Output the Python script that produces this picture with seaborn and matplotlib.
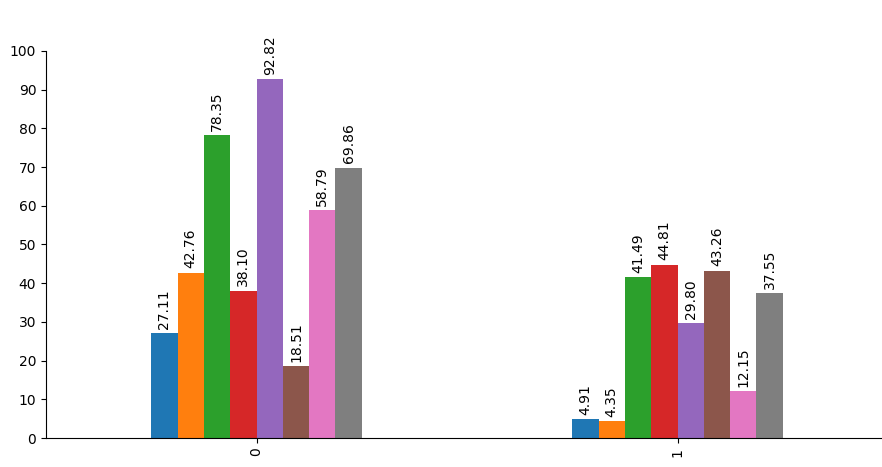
import matplotlib
matplotlib.use("Agg")
import matplotlib.pyplot as plt
import seaborn as sns
import pandas as pd

groups = ["0", "1"]
series = ["A", "B", "C", "D", "E", "F", "G", "H"]
values_g0 = [27.11, 42.76, 78.35, 38.10, 92.82, 18.51, 58.79, 69.86]
values_g1 = [4.91, 4.35, 41.49, 44.81, 29.80, 43.26, 12.15, 37.55]

rows = []
for g, vals in zip(groups, [values_g0, values_g1]):
    for s, v in zip(series, vals):
        rows.append({"group": g, "series": s, "value": v})
df = pd.DataFrame(rows)

sns.set_style("ticks", rc={"text.color": "black", "axes.labelcolor": "black",
                           "xtick.color": "black", "ytick.color": "black",
                           "axes.edgecolor": "black"})
plt.rcParams["font.family"] = ["DejaVu Sans"]
fig = plt.figure(figsize=(8.82, 4.67), dpi=100)
ax = fig.add_axes([46/882, 1-438/467, (888-46)/882, (438-51)/467])
sns.barplot(data=df, x="group", y="value", hue="series", order=groups,
            hue_order=series, palette=sns.color_palette("tab10", 8),
            width=0.5, saturation=1, linewidth=0, ax=ax, legend=False)
for c in ax.containers:
    ax.bar_label(c, fmt="%.2f", rotation=90, padding=3, fontsize=10, color="black")
ax.set_xlim(-0.5, 1.5)
ax.set_ylim(0, 100)
ax.set_yticks(range(0, 101, 10))
ax.set_xlabel("")
ax.set_ylabel("")
ax.tick_params(axis="x", labelrotation=90)
sns.despine(ax=ax)
fig.savefig("out.png", dpi=100)
